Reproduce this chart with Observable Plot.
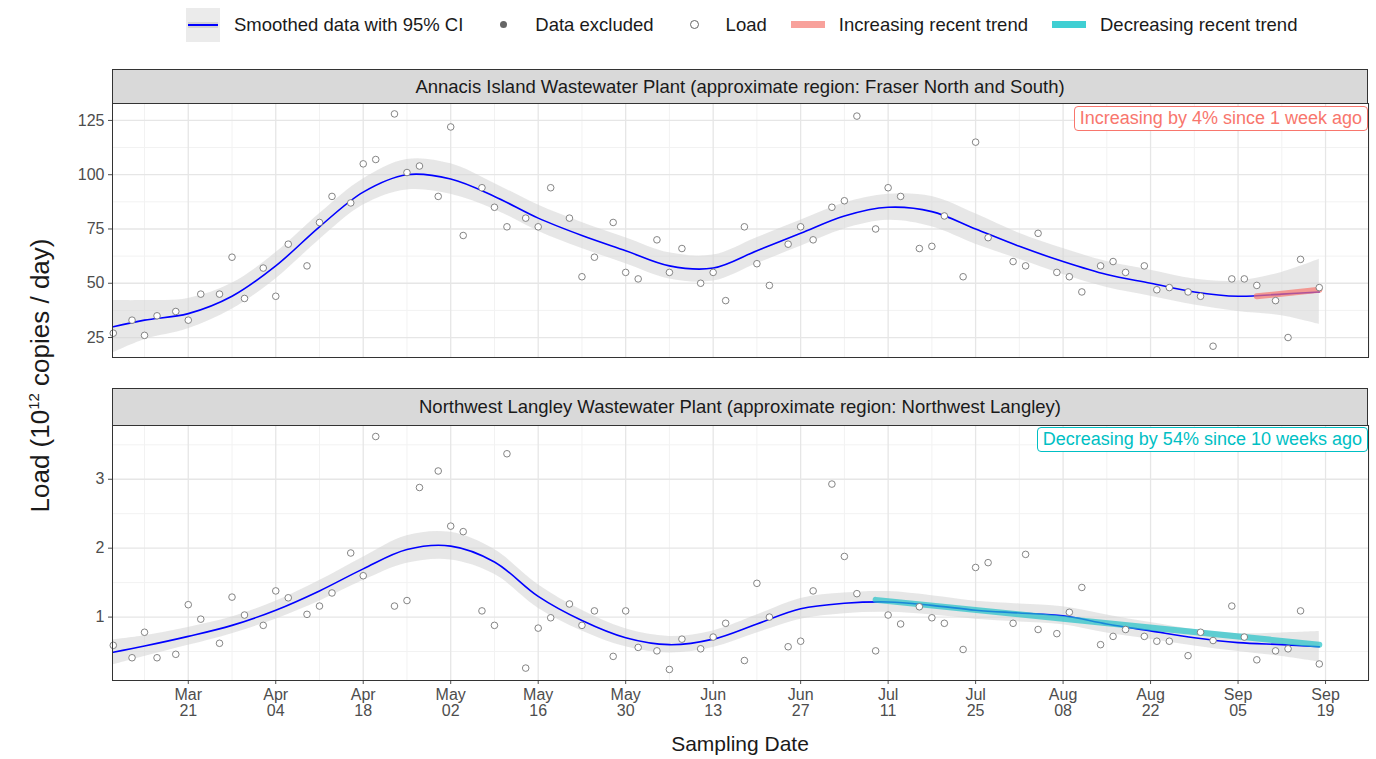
<!DOCTYPE html>
<html><head><meta charset="utf-8">
<script src="https://cdn.jsdelivr.net/npm/d3@7"></script>
<script src="https://cdn.jsdelivr.net/npm/@observablehq/plot@0.6"></script>
<style>
body{margin:0;width:1376px;height:759px;position:relative;font-family:"Liberation Sans",Arial,sans-serif;background:#fff;overflow:hidden}
.abs{position:absolute}
.strip{position:absolute;left:112px;width:1256px;background:#d9d9d9;border:1px solid #333;text-align:center;font-size:18.5px;color:#1a1a1a;box-sizing:border-box}
.note{position:absolute;background:#fff;border:1px solid;border-radius:4px;font-size:18px;padding:1px 5px;white-space:nowrap}
.leg{position:absolute;top:8px;left:186px;display:flex;align-items:center;font-size:18.5px;color:#1a1a1a}
.key{width:34px;height:34px;background:#ebebeb;position:relative;margin-right:14px}
.lab{margin-right:24px}
</style></head><body>
<div class="leg">
  <div class="key"><div class="abs" style="left:2px;right:2px;top:14px;height:6px;background:#d3d3d3"></div><div class="abs" style="left:2px;right:2px;top:16px;height:2px;background:#0000ff"></div></div><span class="lab">Smoothed data with 95% CI</span>
  <div class="key" style="background:none"><div class="abs" style="left:13px;top:13px;width:7px;height:7px;border-radius:50%;background:#666"></div></div><span class="lab">Data excluded</span>
  <div class="key" style="background:none"><div class="abs" style="left:12px;top:12px;width:7px;height:7px;border-radius:50%;border:1px solid #666"></div></div><span class="lab">Load</span>
  <div class="key" style="background:none"><div class="abs" style="left:0;right:0;top:13px;height:7px;background:#f8a19b"></div></div><span class="lab">Increasing recent trend</span>
  <div class="key" style="background:none"><div class="abs" style="left:0;right:0;top:13px;height:7px;background:#3fcfd3"></div></div><span>Decreasing recent trend</span>
</div>
<div class="strip" style="top:69px;height:35px;line-height:33px">Annacis Island Wastewater Plant (approximate region: Fraser North and South)</div>
<div class="strip" style="top:388px;height:38px;line-height:36px">Northwest Langley Wastewater Plant (approximate region: Northwest Langley)</div>
<div id="top" class="abs" style="left:0;top:103px"></div>
<div id="bot" class="abs" style="left:0;top:425px"></div>
<div class="note" style="right:8px;top:106px;color:#F8766D;border-color:#F8766D">Increasing by 4% since 1 week ago</div>
<div class="note" style="right:8px;top:427px;color:#00BFC4;border-color:#00BFC4">Decreasing by 54% since 10 weeks ago</div>
<div class="abs" style="left:-100px;top:360px;width:280px;text-align:center;transform:rotate(-90deg);font-size:26px;color:#1a1a1a">Load (10<sup style="font-size:15px">12</sup> copies / day)</div>
<div class="abs" style="left:112px;width:1256px;top:732px;text-align:center;font-size:21px;color:#1a1a1a">Sampling Date</div>
<script>
const sampleDates = ["2021-03-09","2021-03-12","2021-03-14","2021-03-16","2021-03-19","2021-03-21","2021-03-23","2021-03-26","2021-03-28","2021-03-30","2021-04-02","2021-04-04","2021-04-06","2021-04-09","2021-04-11","2021-04-13","2021-04-16","2021-04-18","2021-04-20","2021-04-23","2021-04-25","2021-04-27","2021-04-30","2021-05-02","2021-05-04","2021-05-07","2021-05-09","2021-05-11","2021-05-14","2021-05-16","2021-05-18","2021-05-21","2021-05-23","2021-05-25","2021-05-28","2021-05-30","2021-06-01","2021-06-04","2021-06-06","2021-06-08","2021-06-11","2021-06-13","2021-06-15","2021-06-18","2021-06-20","2021-06-22","2021-06-25","2021-06-27","2021-06-29","2021-07-02","2021-07-04","2021-07-06","2021-07-09","2021-07-11","2021-07-13","2021-07-16","2021-07-18","2021-07-20","2021-07-23","2021-07-25","2021-07-27","2021-07-31","2021-08-02","2021-08-04","2021-08-07","2021-08-09","2021-08-11","2021-08-14","2021-08-16","2021-08-18","2021-08-21","2021-08-23","2021-08-25","2021-08-28","2021-08-30","2021-09-01","2021-09-04","2021-09-06","2021-09-08","2021-09-11","2021-09-13","2021-09-15","2021-09-18"]
const annacisLoad = [27,33,26,35,37,33,45,45,62,43,57,44,68,58,78,90,87,105,107,128,101,104,90,122,72,94,85,76,80,76,94,80,53,62,78,55,52,70,55,66,50,55,42,76,59,49,68,76,70,85,88,127,75,94,90,66,67,81,53,115,71,60,58,73,55,53,46,58,60,55,58,47,48,46,44,21,52,52,49,42,25,61,48]
const langleyLoad = [0.59,0.41,0.78,0.41,0.46,1.18,0.97,0.62,1.29,1.03,0.88,1.38,1.28,1.04,1.16,1.35,1.93,1.6,3.62,1.16,1.24,2.88,3.12,2.32,2.24,1.09,0.88,3.37,0.26,0.84,0.99,1.19,0.88,1.09,0.43,1.09,0.56,0.51,0.24,0.68,0.54,0.71,0.91,0.37,1.49,1.0,0.57,0.65,1.38,2.93,1.88,1.34,0.51,1.03,0.9,1.15,0.99,0.91,0.53,1.72,1.79,0.91,1.91,0.82,0.76,1.07,1.43,0.6,0.72,0.82,0.72,0.65,0.65,0.44,0.78,0.66,1.16,0.71,0.38,0.51,0.54,1.09,0.32]

const smoothDates = ["2021-03-09","2021-03-14","2021-03-21","2021-03-28","2021-04-04","2021-04-11","2021-04-18","2021-04-25","2021-05-02","2021-05-09","2021-05-16","2021-05-23","2021-05-30","2021-06-06","2021-06-13","2021-06-20","2021-06-27","2021-07-04","2021-07-11","2021-07-18","2021-07-25","2021-08-01","2021-08-08","2021-08-15","2021-08-22","2021-08-29","2021-09-05","2021-09-12","2021-09-18"]
const annacisSmooth = [30,33,36,44,58,76,92,100,98,90,80,72,65,58,57,65,73,81,85,83,75,67,60,54,50,46,44,45,46]
const annacisHalf = [12,9,7,6,6,6,6,7,7,6,6,6,6,6,6,6,6,6,6,7,7,6,6,6,6,6,7,10,15]
const langleySmooth = [0.49,0.58,0.72,0.88,1.1,1.38,1.7,1.98,2.03,1.8,1.3,0.95,0.7,0.6,0.68,0.9,1.12,1.2,1.22,1.17,1.1,1.06,1.02,0.9,0.8,0.7,0.63,0.6,0.57]
const langleyHalf = [0.18,0.15,0.13,0.12,0.13,0.15,0.17,0.2,0.2,0.18,0.17,0.15,0.13,0.12,0.12,0.13,0.15,0.15,0.15,0.14,0.13,0.13,0.13,0.13,0.12,0.12,0.13,0.17,0.22]

const annacisTrend = {dates: ["2021-09-08","2021-09-18"], values: [44, 47]}
const langleyTrend = {dates: ["2021-07-09","2021-09-18"], values: [1.25, 0.6]}

const parse = d3.utcParse("%Y-%m-%d")
const xDomain = [new Date(Date.UTC(2021,2,8,21)), new Date(Date.UTC(2021,8,25,21))]
const majorX = d3.range(14).map(i => new Date(Date.UTC(2021,2,21+14*i)))
const minorX = d3.range(-1,14).map(i => new Date(Date.UTC(2021,2,28+14*i)))

function panel(loads, smooth, half, trend, trendColor, yDomain, yTicks, yMinor, withAxis) {
  const pts = sampleDates.map((d,i) => ({date: parse(d), v: loads[i]}))
  const sm = smoothDates.map((d,i) => ({date: parse(d), v: smooth[i], lo: smooth[i]-half[i], hi: smooth[i]+half[i]}))
  const tr = trend.dates.map((d,i) => ({date: parse(d), v: trend.values[i]}))
  return Plot.plot({
    width: 1370, height: withAxis ? 306 : 254,
    marginLeft: 112, marginRight: 2, marginTop: 0, marginBottom: withAxis ? 51 : 0,
    style: {fontFamily: "Liberation Sans, Arial, sans-serif", fontSize: "16px", color: "#4d4d4d", overflow: "visible"},
    x: {type: "utc", domain: xDomain, label: null, ticks: majorX, tickFormat: d3.utcFormat("%b\n%d"), tickSize: 4, tickPadding: 4, axis: withAxis ? "bottom" : null},
    y: {domain: yDomain, ticks: yTicks, tickFormat: d3.format("~g"), label: null, tickSize: 4, tickPadding: 4},
    marks: [
      Plot.ruleX(minorX, {stroke: "#f2f2f2", strokeWidth: 1}),
      Plot.ruleY(yMinor, {stroke: "#f2f2f2", strokeWidth: 1}),
      Plot.ruleX(majorX, {stroke: "#e6e6e6", strokeWidth: 1.3}),
      Plot.ruleY(yTicks, {stroke: "#e6e6e6", strokeWidth: 1.3}),
      Plot.areaY(sm, {x: "date", y1: "lo", y2: "hi", fill: "#d3d3d3", fillOpacity: 0.55, curve: "catmull-rom"}),
      Plot.lineY(sm, {x: "date", y: "v", stroke: "#0000ff", strokeWidth: 1.6, curve: "catmull-rom"}),
      Plot.lineY(tr, {x: "date", y: "v", stroke: trendColor, strokeWidth: 6, strokeOpacity: 0.7}),
      Plot.dot(pts, {x: "date", y: "v", r: 3.3, stroke: "#777", fill: "white", strokeWidth: 0.9}),
      Plot.frame({stroke: "#333"})
    ]
  })
}

document.getElementById("top").append(panel(annacisLoad, annacisSmooth, annacisHalf, annacisTrend, "#F8766D", [15.8, 132.8], [25,50,75,100,125], [37.5,62.5,87.5,112.5], false))
document.getElementById("bot").append(panel(langleyLoad, langleySmooth, langleyHalf, langleyTrend, "#22c2c8", [0.08, 3.78], [1,2,3], [0.5,1.5,2.5,3.5], true))
</script>
</body></html>
